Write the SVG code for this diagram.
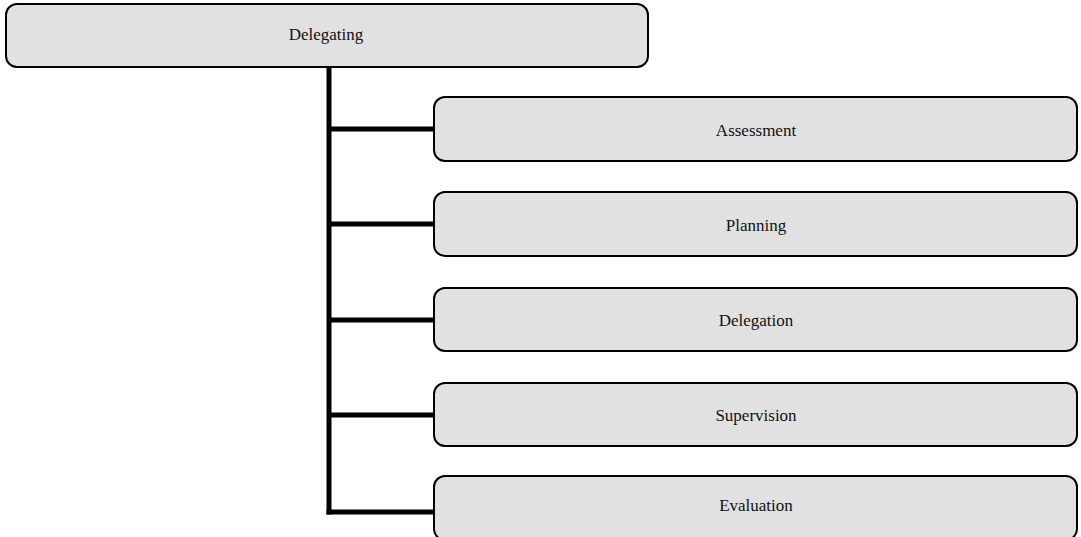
<svg xmlns="http://www.w3.org/2000/svg" width="1081" height="537" viewBox="0 0 1081 537">
<style>
.box{fill:#e1e1e1;stroke:#000;stroke-width:2}
.lbl{font-family:"Liberation Serif",serif;font-size:17px;fill:#111;text-anchor:middle;dominant-baseline:central}
.conn{stroke:#000;stroke-width:5;fill:none}
</style>
<rect width="1081" height="537" fill="#fff"/>
<g id="connectors">
<path class="conn" d="M329 67V514.5"/>
<path class="conn" d="M329 129H434M329 224H434M329 320H434M329 415H434M326.5 512H434"/>
</g>
<g id="n-delegating"><rect class="box" x="6" y="4" width="642" height="63" rx="11"/><text class="lbl" x="326" y="34">Delegating</text></g>
<g id="n-assessment"><rect class="box" x="434" y="97" width="643" height="64" rx="11"/><text class="lbl" x="756" y="130">Assessment</text></g>
<g id="n-planning"><rect class="box" x="434" y="192" width="643" height="64" rx="11"/><text class="lbl" x="756" y="225">Planning</text></g>
<g id="n-delegation"><rect class="box" x="434" y="288" width="643" height="63" rx="11"/><text class="lbl" x="756" y="320">Delegation</text></g>
<g id="n-supervision"><rect class="box" x="434" y="383" width="643" height="63" rx="11"/><text class="lbl" x="756" y="415">Supervision</text></g>
<g id="n-evaluation"><rect class="box" x="434" y="476" width="643" height="64" rx="11"/><text class="lbl" x="756" y="505">Evaluation</text></g>
</svg>
